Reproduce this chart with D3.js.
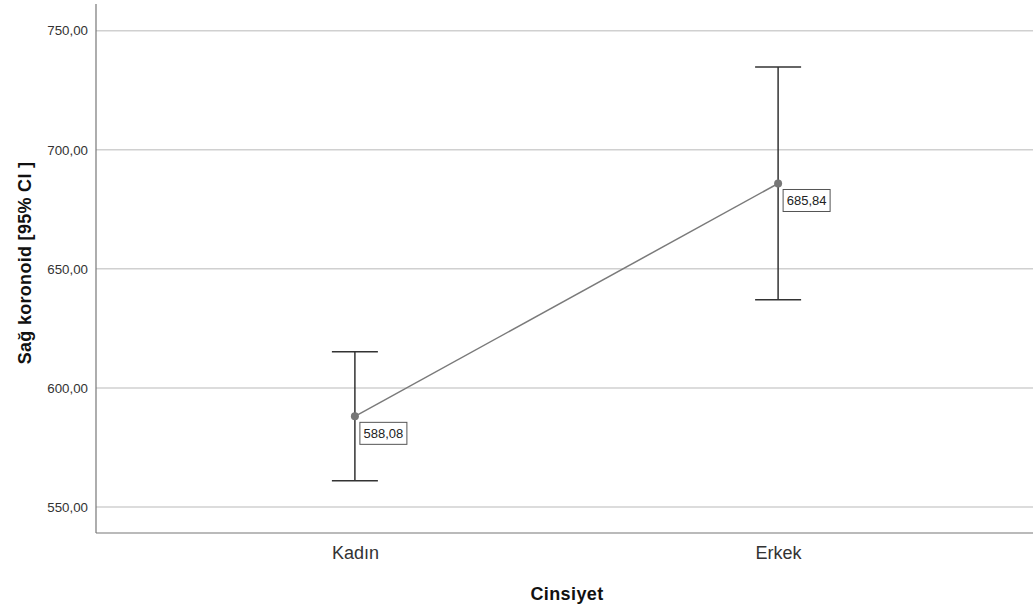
<!DOCTYPE html>
<html><head><meta charset="utf-8">
<script src="https://cdn.jsdelivr.net/npm/d3@7"></script>
<style>body{margin:0;background:#fff}svg{display:block}text{font-family:Arial,"Liberation Sans",sans-serif}</style>
</head><body><svg id="c" width="1033" height="613"></svg>
<script>
const categories = ["Kadın", "Erkek"];
const means = [588.08, 685.84];
const lower = [561.0, 637.0];
const upper = [615.2, 734.8];
const yTicks = [550, 600, 650, 700, 750];
const meanLabels = ["588,08", "685,84"];
const xTitle = "Cinsiyet";
const yTitle = "Sağ koronoid [95% CI ]";

const svg = d3.select("#c");
const L = 96, R = 1033, T = 4, B = 533;
const x = d3.scalePoint().domain(categories).range([L + 2, R + 2]).padding(0.607);
const y = d3.scaleLinear().domain([539.1, 761.2]).range([B, T]);
const fmt = v => d3.format(".2f")(v).replace(".", ",");

// gridlines
svg.append("g").selectAll("line").data(yTicks).join("line")
  .attr("x1", L).attr("x2", R).attr("y1", d => y(d)).attr("y2", d => y(d))
  .attr("stroke", "#d0d0d0").attr("stroke-width", 1.5);

// axes
const yAxis = d3.axisLeft(y).tickValues(yTicks).tickFormat(fmt).tickSize(0).tickPadding(8);
const gy = svg.append("g").attr("transform", `translate(${L},0)`).call(yAxis);
gy.select(".domain").remove();
gy.selectAll("text").attr("font-size", 13.3).attr("fill", "#333");
const xAxis = d3.axisBottom(x).tickSize(0).tickPadding(13);
const gx = svg.append("g").attr("transform", `translate(0,${B})`).call(xAxis);
gx.select(".domain").remove();
gx.selectAll("text").attr("font-size", 18).attr("fill", "#333");

svg.append("line").attr("x1", L).attr("x2", L).attr("y1", T).attr("y2", B).attr("stroke", "#777").attr("stroke-width", 1.2);
svg.append("line").attr("x1", L).attr("x2", R).attr("y1", B).attr("y2", B).attr("stroke", "#777").attr("stroke-width", 1.2);

// error bars
const eb = svg.append("g").attr("stroke", "#333").attr("stroke-width", 1.5);
categories.forEach((c, i) => {
  const cx = x(c);
  eb.append("line").attr("x1", cx).attr("x2", cx).attr("y1", y(upper[i])).attr("y2", y(lower[i]));
  eb.append("line").attr("x1", cx - 23).attr("x2", cx + 23).attr("y1", y(upper[i])).attr("y2", y(upper[i]));
  eb.append("line").attr("x1", cx - 23).attr("x2", cx + 23).attr("y1", y(lower[i])).attr("y2", y(lower[i]));
});

// mean line
const line = d3.line().x((d, i) => x(categories[i])).y(d => y(d));
svg.append("path").datum(means).attr("d", line).attr("fill", "none").attr("stroke", "#7a7a7a").attr("stroke-width", 1.5);
svg.append("g").selectAll("circle").data(means).join("circle")
  .attr("cx", (d, i) => x(categories[i])).attr("cy", d => y(d)).attr("r", 4).attr("fill", "#777");

// labels
categories.forEach((c, i) => {
  const cx = x(c), cy = y(means[i]);
  const g = svg.append("g").attr("transform", `translate(${cx + 5},${cy + 6})`);
  g.append("rect").attr("width", 47).attr("height", 22).attr("fill", "#fff").attr("stroke", "#555").attr("stroke-width", 1);
  g.append("text").attr("x", 23.5).attr("y", 16).attr("text-anchor", "middle").attr("font-size", 13).attr("fill", "#222").text(meanLabels[i]);
});

// titles
svg.append("text").attr("x", 567).attr("y", 600).attr("text-anchor", "middle")
  .attr("font-size", 18).attr("font-weight", "bold").attr("letter-spacing", 0.4).attr("fill", "#111").text(xTitle);
svg.append("text").attr("transform", `translate(31,263) rotate(-90)`).attr("text-anchor", "middle")
  .attr("font-size", 18).attr("font-weight", "bold").attr("letter-spacing", 0.3).attr("fill", "#111").text(yTitle);
</script></body></html>
